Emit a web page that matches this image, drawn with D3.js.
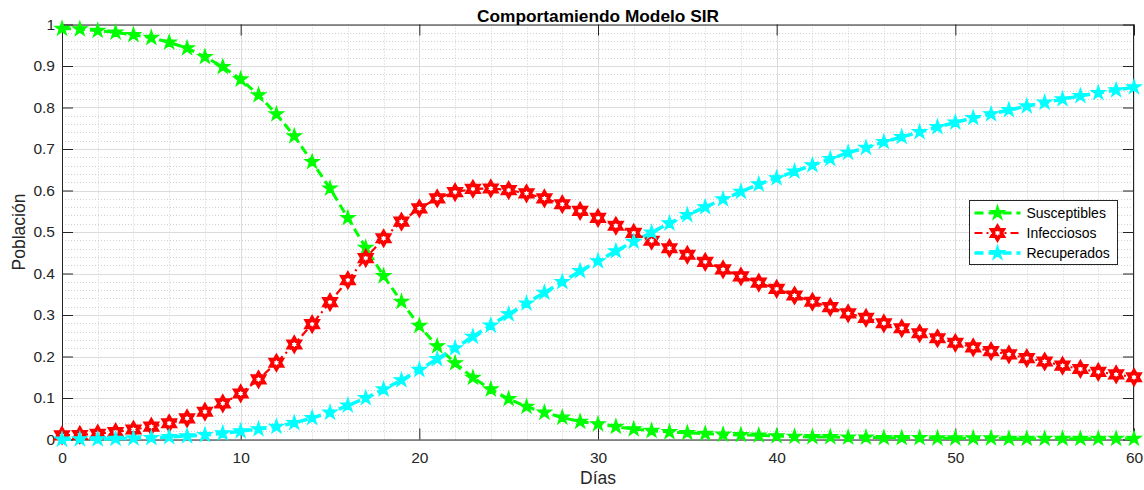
<!DOCTYPE html>
<html>
<head>
<meta charset="utf-8">
<script src="https://cdn.jsdelivr.net/npm/d3@7"></script>
<style>
  html, body { margin: 0; padding: 0; background: #fff; }
  svg { display: block; font-family: "Liberation Sans", Arial, Helvetica, sans-serif; }
</style>
</head>
<body>
<svg id="chart" width="1144" height="490"></svg>
<script>
// Simulated SIR model output, one sample per day
const days = d3.range(0, 61);
const susceptibles = [0.990,0.989,0.985,0.981,0.975,0.968,0.957,0.943,0.922,0.898,
  0.868,0.830,0.784,0.731,0.669,0.605,0.534,0.462,0.394,0.332,
  0.274,0.225,0.184,0.149,0.121,0.098,0.079,0.065,0.053,0.043,
  0.037,0.031,0.025,0.021,0.018,0.016,0.014,0.012,0.011,0.010,
  0.008,0.007,0.006,0.006,0.005,0.005,0.004,0.004,0.004,0.003,
  0.003,0.003,0.003,0.002,0.002,0.002,0.002,0.002,0.002,0.002,0.002];
const infecciosos = [0.010,0.011,0.014,0.018,0.024,0.031,0.039,0.051,0.067,0.087,
  0.111,0.145,0.185,0.229,0.278,0.331,0.384,0.437,0.485,0.525,
  0.557,0.581,0.596,0.604,0.605,0.601,0.593,0.581,0.567,0.551,
  0.534,0.515,0.498,0.479,0.461,0.445,0.428,0.410,0.393,0.378,
  0.363,0.347,0.332,0.319,0.304,0.293,0.280,0.268,0.256,0.244,
  0.233,0.222,0.213,0.205,0.196,0.188,0.178,0.170,0.163,0.157,0.150];
const recuperados = [0.000,0.001,0.001,0.002,0.003,0.004,0.006,0.008,0.011,0.015,
  0.020,0.025,0.031,0.040,0.052,0.065,0.082,0.100,0.121,0.143,
  0.168,0.194,0.220,0.248,0.275,0.302,0.328,0.354,0.380,0.406,
  0.430,0.454,0.477,0.499,0.521,0.541,0.560,0.579,0.597,0.615,
  0.630,0.646,0.661,0.676,0.691,0.703,0.717,0.729,0.741,0.753,
  0.764,0.775,0.784,0.794,0.803,0.812,0.820,0.828,0.835,0.842,0.849];

const seriesNames = ["Susceptibles", "Infecciosos", "Recuperados"];
const xTicks = [0, 10, 20, 30, 40, 50, 60];
const yTicks = [0, 0.1, 0.2, 0.3, 0.4, 0.5, 0.6, 0.7, 0.8, 0.9, 1];
const titleText = "Comportamiendo Modelo SIR";
const xLabel = "Días";
const yLabel = "Población";

const svg = d3.select("#chart");
const pLeft = 62, pRight = 1134, pTop = 24.5, pBottom = 439.5;

const x = d3.scaleLinear().domain([0, 60]).range([pLeft, pRight]);
const y = d3.scaleLinear().domain([0, 1]).range([pBottom, pTop]);

const axisColor = "#262626";

// minor grid (dotted)
const minorX = d3.range(0, 61, 2).filter(v => v % 10 !== 0);
const minorY = d3.range(0, 51).map(v => v / 50).filter((v, i) => i % 5 !== 0);
const grid = svg.append("g");
grid.selectAll(".mx").data(minorX).join("line")
  .attr("x1", d => Math.round(x(d)) + 0.5).attr("x2", d => Math.round(x(d)) + 0.5)
  .attr("y1", pTop).attr("y2", pBottom)
  .attr("stroke", "#d0d0d0").attr("stroke-width", 1).attr("stroke-dasharray", "1,2");
grid.selectAll(".my").data(minorY).join("line")
  .attr("y1", d => Math.round(y(d)) + 0.5).attr("y2", d => Math.round(y(d)) + 0.5)
  .attr("x1", pLeft).attr("x2", pRight)
  .attr("stroke", "#d0d0d0").attr("stroke-width", 1).attr("stroke-dasharray", "1,2");
// major grid (solid)
grid.selectAll(".gx").data(xTicks).join("line")
  .attr("x1", d => Math.round(x(d)) + 0.5).attr("x2", d => Math.round(x(d)) + 0.5)
  .attr("y1", pTop).attr("y2", pBottom)
  .attr("stroke", "#dcdcdc").attr("stroke-width", 1);
grid.selectAll(".gy").data(yTicks).join("line")
  .attr("y1", d => Math.round(y(d)) + 0.5).attr("y2", d => Math.round(y(d)) + 0.5)
  .attr("x1", pLeft).attr("x2", pRight)
  .attr("stroke", "#dcdcdc").attr("stroke-width", 1);

// axes with inward ticks on all four sides
const tickLen = 11;
const fmtY = d => d === 0 ? "0" : d === 1 ? "1" : d3.format(".1f")(d);

const gx = svg.append("g").attr("transform", `translate(0,${pBottom})`)
  .call(d3.axisBottom(x).tickValues(xTicks).tickSize(-tickLen).tickPadding(12).tickFormat(d3.format("d")));
const gxt = svg.append("g").attr("transform", `translate(0,${pTop})`)
  .call(d3.axisTop(x).tickValues(xTicks).tickSize(-tickLen).tickFormat(""));
const gy = svg.append("g").attr("transform", `translate(${pLeft},0)`)
  .call(d3.axisLeft(y).tickValues(yTicks).tickSize(-tickLen).tickPadding(7).tickFormat(fmtY));
const gyr = svg.append("g").attr("transform", `translate(${pRight},0)`)
  .call(d3.axisRight(y).tickValues(yTicks).tickSize(-tickLen).tickFormat(""));

[gx, gxt, gy, gyr].forEach(g => {
  g.selectAll(".domain").attr("stroke", axisColor).attr("stroke-width", 1);
  g.selectAll(".tick line").attr("stroke", axisColor).attr("stroke-width", 1);
  g.selectAll("text").attr("fill", axisColor)
    .style("font-family", '"Liberation Sans", Arial, sans-serif').style("font-size", "15.5px");
});
gx.selectAll(".domain").attr("d", `M${pLeft},0.5H${pRight}`);
gxt.selectAll(".domain").attr("d", `M${pLeft},0.5H${pRight}`);
gy.selectAll(".domain").attr("d", `M0.5,${pBottom}V${pTop}`);
gyr.selectAll(".domain").attr("d", `M-0.5,${pBottom}V${pTop}`);

// marker shapes
function pentagram(R) {
  const r = R * 0.382, pts = [];
  for (let i = 0; i < 10; i++) {
    const a = -Math.PI / 2 + i * Math.PI / 5;
    const rad = i % 2 === 0 ? R : r;
    pts.push([rad * Math.cos(a), rad * Math.sin(a)]);
  }
  return "M" + pts.map(p => p[0].toFixed(2) + "," + p[1].toFixed(2)).join("L") + "Z";
}
function hexagram(R) {
  const r = R / Math.sqrt(3), pts = [];
  for (let i = 0; i < 12; i++) {
    const a = -Math.PI / 2 + i * Math.PI / 6;
    const rad = i % 2 === 0 ? R : r;
    pts.push([rad * Math.cos(a), rad * Math.sin(a)]);
  }
  return "M" + pts.map(p => p[0].toFixed(2) + "," + p[1].toFixed(2)).join("L") + "Z";
}

const styles = [
  { name: seriesNames[0], values: susceptibles, color: "#00ff00", width: 3, dash: "9,5",
    marker: pentagram(7.5), mFill: "#00ff00", mStroke: "#00ff00", mWidth: 1.2 },
  { name: seriesNames[1], values: infecciosos, color: "#ff0000", width: 2.2, dash: "8,4,2,4",
    marker: hexagram(6.5), mFill: "#ffffff", mStroke: "#ff0000", mWidth: 3.6 },
  { name: seriesNames[2], values: recuperados, color: "#00ffff", width: 3.5, dash: "9,5",
    marker: pentagram(7.5), mFill: "#00ffff", mStroke: "#00ffff", mWidth: 1.2 }
];

const plot = svg.append("g");
const line = d3.line().x(d => x(d[0])).y(d => y(d[1]));
styles.forEach(s => {
  const pts = days.map((d, i) => [d, s.values[i]]);
  const g = plot.append("g");
  g.append("path").datum(pts).attr("d", line)
    .attr("fill", "none").attr("stroke", s.color).attr("stroke-width", s.width)
    .attr("stroke-dasharray", s.dash);
  g.selectAll("path.m").data(pts).join("path").attr("class", "m")
    .attr("transform", d => `translate(${x(d[0])},${y(d[1])})`)
    .attr("d", s.marker).attr("fill", s.mFill).attr("stroke", s.mStroke)
    .attr("stroke-width", s.mWidth).attr("stroke-linejoin", "miter");
});

// title and axis labels
svg.append("text").attr("x", (pLeft + pRight) / 2).attr("y", 21.5)
  .attr("text-anchor", "middle").attr("fill", "#000")
  .style("font-size", "17.3px").style("font-weight", "bold").text(titleText);
svg.append("text").attr("x", (pLeft + pRight) / 2).attr("y", 483.5)
  .attr("text-anchor", "middle").attr("fill", axisColor)
  .style("font-size", "17.5px").text(xLabel);
svg.append("text").attr("transform", `translate(25,${(pTop + pBottom) / 2}) rotate(-90)`)
  .attr("text-anchor", "middle").attr("fill", axisColor)
  .style("font-size", "17.5px").text(yLabel);

// legend
const lg = svg.append("g").attr("transform", "translate(969.5,200.5)");
lg.append("rect").attr("width", 148).attr("height", 64)
  .attr("fill", "#fff").attr("stroke", axisColor).attr("stroke-width", 1);
styles.forEach((s, i) => {
  const cy = 12.5 + i * 20;
  lg.append("line").attr("x1", 5).attr("x2", 51).attr("y1", cy).attr("y2", cy)
    .attr("stroke", s.color).attr("stroke-width", s.width).attr("stroke-dasharray", s.dash);
  lg.append("path").attr("transform", `translate(28,${cy})`).attr("d", s.marker)
    .attr("fill", s.mFill).attr("stroke", s.mStroke).attr("stroke-width", s.mWidth);
  lg.append("text").attr("x", 57).attr("y", cy).attr("dy", "0.35em")
    .attr("fill", "#000").style("font-size", "14px").text(s.name);
});
</script>
</body>
</html>
